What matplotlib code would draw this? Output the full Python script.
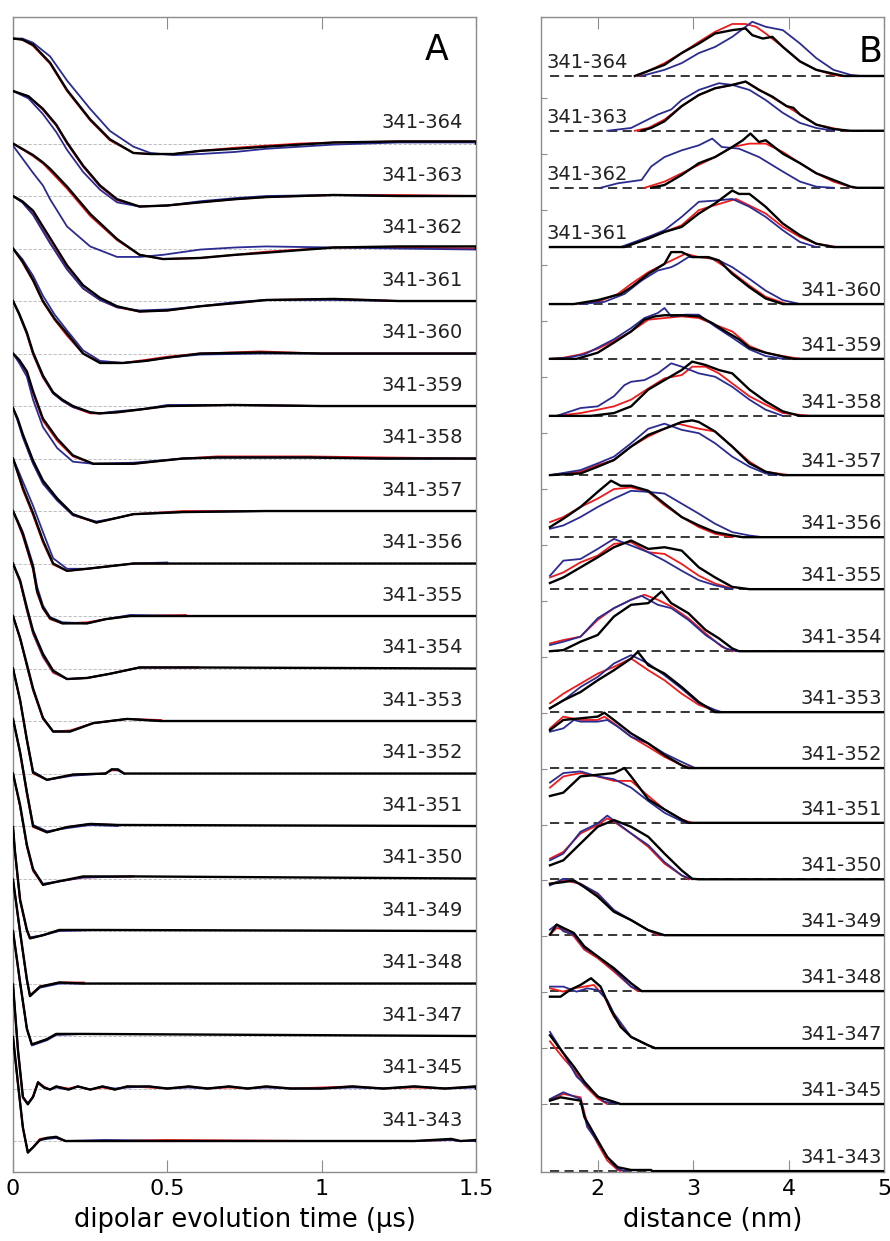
import matplotlib.pyplot as plt

# construct pairs, top to bottom
labels = ['341-364', '341-363', '341-362', '341-361', '341-360', '341-359',
          '341-358', '341-357', '341-356', '341-355', '341-354', '341-353',
          '341-352', '341-351', '341-350', '341-349', '341-348', '341-347',
          '341-345', '341-343']

# ---------------- panel A: background-corrected DEER traces ----------------
a_t = [
    [0, 0.03, 0.065, 0.12, 0.175, 0.25, 0.314, 0.39, 0.445, 0.52, 0.606, 0.72, 0.82, 0.93, 1.04, 1.25, 1.5],
    [0, 0.05, 0.097, 0.14, 0.175, 0.227, 0.282, 0.337, 0.41, 0.5, 0.606, 0.72, 0.82, 1.04, 1.25, 1.5],
    [0, 0.065, 0.097, 0.12, 0.175, 0.25, 0.337, 0.41, 0.486, 0.606, 0.72, 0.82, 1.04, 1.25, 1.5],
    [0, 0.03, 0.065, 0.12, 0.175, 0.227, 0.282, 0.337, 0.41, 0.5, 0.606, 0.72, 0.82, 1.04, 1.25, 1.5],
    [0, 0.03, 0.065, 0.097, 0.135, 0.175, 0.227, 0.282, 0.356, 0.43, 0.5, 0.606, 0.8, 1.0, 1.5],
    [0, 0.02, 0.045, 0.065, 0.097, 0.13, 0.16, 0.194, 0.25, 0.28, 0.337, 0.42, 0.5, 0.71, 1.0, 1.5],
    [0, 0.02, 0.045, 0.065, 0.097, 0.143, 0.194, 0.26, 0.39, 0.55, 0.66, 0.96, 1.2, 1.5],
    [0, 0.015, 0.032, 0.065, 0.097, 0.143, 0.194, 0.27, 0.33, 0.39, 0.55, 0.82, 1.5],
    [0, 0.015, 0.032, 0.065, 0.097, 0.13, 0.175, 0.24, 0.39, 0.5],
    [0, 0.015, 0.032, 0.065, 0.078, 0.097, 0.12, 0.16, 0.24, 0.3, 0.38, 0.56],
    [0, 0.01, 0.023, 0.045, 0.065, 0.097, 0.13, 0.175, 0.24, 0.314, 0.41, 0.6],
    [0, 0.023, 0.045, 0.065, 0.097, 0.13, 0.185, 0.26, 0.37, 0.48],
    [0, 0.023, 0.045, 0.065, 0.11, 0.194, 0.30, 0.32, 0.34, 0.36],
    [0, 0.023, 0.045, 0.065, 0.11, 0.175, 0.25, 0.34],
    [0, 0.023, 0.045, 0.065, 0.097, 0.143, 0.227, 0.39],
    [0, 0.006, 0.023, 0.045, 0.055, 0.097, 0.15, 0.27],
    [0, 0.023, 0.045, 0.055, 0.087, 0.15, 0.23],
    [0, 0.023, 0.045, 0.061, 0.11, 0.14, 0.23],
    [0, 0.016, 0.032, 0.048, 0.065, 0.081, 0.10, 0.12, 0.14, 0.18, 0.21, 0.25, 0.29, 0.33, 0.37,
     0.44, 0.5, 0.57, 0.63, 0.7, 0.76, 0.82, 0.9, 1.0, 1.1, 1.2, 1.3, 1.4, 1.5],
    [0, 0.016, 0.032, 0.048, 0.065, 0.087, 0.11, 0.14, 0.17, 0.3, 0.5, 1.0, 1.3, 1.42, 1.45, 1.5],
]
a_black = [
    [1.0, 0.99, 0.94, 0.77, 0.51, 0.23, 0.04, -0.09, -0.10, -0.10, -0.07, -0.05, -0.03, -0.01, 0.01, 0.02, 0.02],
    [1.0, 0.95, 0.83, 0.68, 0.51, 0.29, 0.10, -0.03, -0.10, -0.09, -0.06, -0.03, -0.01, 0.01, 0.0, 0.0],
    [1.0, 0.89, 0.82, 0.76, 0.59, 0.33, 0.09, -0.06, -0.10, -0.09, -0.06, -0.04, 0.01, 0.02, 0.02],
    [1.0, 0.95, 0.86, 0.60, 0.34, 0.15, 0.03, -0.05, -0.10, -0.09, -0.05, -0.02, 0.01, 0.02, 0.0, 0.0],
    [1.0, 0.88, 0.70, 0.50, 0.33, 0.19, 0.0, -0.09, -0.09, -0.07, -0.04, 0.0, 0.01, 0.0, 0.0],
    [1.0, 0.88, 0.70, 0.51, 0.29, 0.13, 0.06, 0.0, -0.06, -0.07, -0.06, -0.03, 0.0, 0.01, 0.0, 0.0],
    [1.0, 0.94, 0.83, 0.64, 0.38, 0.19, 0.03, -0.05, -0.05, 0.0, 0.01, 0.01, 0.0, 0.0],
    [0.98, 0.88, 0.73, 0.48, 0.29, 0.12, -0.03, -0.11, -0.07, -0.03, -0.01, 0.0, 0.0],
    [1.0, 0.87, 0.72, 0.48, 0.22, 0.0, -0.07, -0.05, 0.0, 0.0],
    [1.0, 0.90, 0.78, 0.46, 0.24, 0.08, -0.02, -0.07, -0.07, -0.03, 0.0, 0.0],
    [1.0, 0.93, 0.84, 0.58, 0.36, 0.14, -0.02, -0.10, -0.09, -0.05, 0.01, 0.01],
    [1.0, 0.79, 0.54, 0.31, 0.03, -0.10, -0.10, -0.02, 0.02, 0.0],
    [1.0, 0.70, 0.32, 0.01, -0.06, -0.01, 0.0, 0.04, 0.04, 0.0],
    [1.02, 0.70, 0.32, 0.0, -0.06, -0.01, 0.02, 0.01],
    [1.0, 0.70, 0.32, 0.09, -0.06, -0.03, 0.02, 0.02],
    [0.99, 0.77, 0.30, 0.01, -0.07, -0.04, 0.01, 0.01],
    [0.99, 0.49, 0.04, -0.12, -0.03, 0.01, 0.0],
    [1.0, 0.51, 0.07, -0.08, -0.03, 0.02, 0.02],
    [0.99, 0.37, -0.08, -0.15, -0.08, 0.06, 0.01, -0.01, 0.02, -0.01, 0.02, -0.01, 0.02, -0.01, 0.02,
     0.02, 0.0, 0.02, 0.0, 0.02, 0.0, 0.02, 0.0, 0.0, 0.02, 0.0, 0.02, 0.0, 0.02],
    [0.99, 0.55, 0.13, -0.11, -0.06, 0.01, 0.03, 0.04, 0.0, 0.0, 0.0, 0.0, 0.0, 0.02, 0.0, 0.01],
]
a_red = [
    [1.0, 0.99, 0.93, 0.76, 0.50, 0.22, 0.03, -0.09, -0.10, -0.10, -0.07, -0.04, -0.02, 0.0, 0.01, 0.02, 0.02],
    [1.0, 0.95, 0.82, 0.67, 0.50, 0.28, 0.09, -0.04, -0.10, -0.09, -0.06, -0.03, -0.01, 0.01, 0.01, 0.0],
    [1.0, 0.88, 0.81, 0.74, 0.57, 0.31, 0.08, -0.06, -0.10, -0.09, -0.06, -0.03, 0.01, 0.01, 0.0],
    [1.0, 0.94, 0.83, 0.56, 0.31, 0.12, 0.01, -0.06, -0.10, -0.09, -0.05, -0.02, 0.01, 0.02, 0.0, 0.0],
    [1.0, 0.87, 0.69, 0.49, 0.32, 0.17, 0.0, -0.08, -0.09, -0.06, -0.03, 0.0, 0.02, 0.0, 0.0],
    [1.0, 0.87, 0.68, 0.49, 0.27, 0.12, 0.05, -0.01, -0.07, -0.07, -0.06, -0.03, 0.0, 0.01, 0.0, 0.0],
    [1.0, 0.93, 0.81, 0.62, 0.36, 0.17, 0.02, -0.05, -0.05, 0.0, 0.02, 0.02, 0.01, 0.0],
    [0.98, 0.87, 0.71, 0.46, 0.27, 0.11, -0.04, -0.11, -0.07, -0.03, 0.0, 0.0, 0.0],
    [1.0, 0.86, 0.70, 0.46, 0.20, -0.01, -0.07, -0.05, 0.0, 0.0],
    [1.0, 0.89, 0.76, 0.44, 0.22, 0.07, -0.03, -0.07, -0.06, -0.03, 0.0, 0.01],
    [1.0, 0.92, 0.82, 0.55, 0.33, 0.11, -0.04, -0.10, -0.09, -0.05, 0.01, 0.01],
    [1.0, 0.78, 0.52, 0.29, 0.02, -0.10, -0.09, -0.02, 0.02, 0.01],
    [1.0, 0.69, 0.31, 0.0, -0.06, -0.01, 0.0, 0.03, 0.03, 0.0],
    [1.02, 0.69, 0.30, -0.01, -0.06, -0.01, 0.02, 0.01],
    [1.0, 0.68, 0.30, 0.07, -0.06, -0.03, 0.01, 0.02],
    [0.99, 0.76, 0.28, 0.0, -0.07, -0.04, 0.01, 0.01],
    [0.99, 0.48, 0.03, -0.11, -0.03, 0.01, 0.01],
    [1.0, 0.50, 0.06, -0.08, -0.03, 0.02, 0.02],
    [0.99, 0.36, -0.09, -0.15, -0.07, 0.06, 0.02, -0.01, 0.02, 0.0, 0.02, -0.01, 0.01, -0.01, 0.02,
     0.01, 0.0, 0.02, 0.0, 0.01, 0.0, 0.02, 0.0, 0.01, 0.02, 0.0, 0.01, 0.0, 0.02],
    [0.99, 0.54, 0.12, -0.11, -0.06, 0.02, 0.03, 0.03, 0.0, 0.0, 0.01, 0.0, 0.0, 0.01, 0.0, 0.0],
]
a_blue = [
    [1.0, 1.0, 0.96, 0.83, 0.60, 0.33, 0.12, -0.03, -0.09, -0.11, -0.10, -0.08, -0.05, -0.03, -0.01, 0.01, 0.01],
    [1.0, 0.93, 0.78, 0.61, 0.44, 0.23, 0.06, -0.06, -0.10, -0.09, -0.05, -0.02, 0.0, 0.01, 0.0, 0.0],
    [0.98, 0.72, 0.60, 0.47, 0.21, 0.02, -0.08, -0.08, -0.06, -0.01, 0.01, 0.02, 0.01, 0.0, -0.01],
    [1.0, 0.94, 0.82, 0.55, 0.30, 0.12, 0.01, -0.06, -0.09, -0.08, -0.05, -0.01, 0.01, 0.01, 0.0, 0.0],
    [1.0, 0.90, 0.74, 0.55, 0.37, 0.22, 0.03, -0.07, -0.09, -0.07, -0.04, -0.01, 0.0, 0.0, 0.0],
    [1.0, 0.87, 0.69, 0.50, 0.28, 0.12, 0.05, -0.01, -0.06, -0.07, -0.05, -0.03, 0.01, 0.01, 0.0, 0.0],
    [1.0, 0.91, 0.78, 0.56, 0.30, 0.10, -0.03, -0.05, -0.04, 0.0, 0.01, 0.01, 0.0, 0.0],
    [0.98, 0.86, 0.70, 0.45, 0.26, 0.10, -0.04, -0.10, -0.07, -0.03, -0.01, 0.0, 0.0],
    [1.0, 0.90, 0.78, 0.55, 0.30, 0.05, -0.05, -0.05, 0.0, 0.01],
    [1.0, 0.91, 0.80, 0.49, 0.28, 0.10, -0.01, -0.06, -0.07, -0.03, 0.01, 0.0],
    [1.0, 0.92, 0.83, 0.56, 0.34, 0.12, -0.03, -0.10, -0.09, -0.05, 0.01, 0.01],
    [1.0, 0.79, 0.53, 0.30, 0.03, -0.10, -0.10, -0.02, 0.02, 0.0],
    [1.0, 0.70, 0.33, 0.02, -0.06, -0.02, 0.0, 0.04, 0.03, 0.0],
    [1.02, 0.71, 0.33, 0.01, -0.05, -0.02, 0.01, 0.0],
    [1.0, 0.69, 0.31, 0.08, -0.05, -0.03, 0.01, 0.02],
    [0.99, 0.77, 0.29, 0.01, -0.06, -0.04, 0.0, 0.01],
    [0.99, 0.49, 0.03, -0.12, -0.04, 0.0, 0.0],
    [1.0, 0.51, 0.07, -0.09, -0.04, 0.01, 0.02],
    [0.99, 0.37, -0.08, -0.14, -0.08, 0.05, 0.01, -0.01, 0.01, -0.01, 0.02, -0.01, 0.02, 0.0, 0.01,
     0.02, 0.0, 0.01, 0.0, 0.02, 0.0, 0.01, 0.0, 0.0, 0.01, 0.0, 0.02, 0.0, 0.01],
    [0.99, 0.55, 0.13, -0.10, -0.06, 0.01, 0.02, 0.03, 0.0, 0.01, 0.0, 0.0, 0.0, 0.01, 0.0, 0.0],
]

# ---------------- panel B: distance distributions ----------------
b_shift = [19.39, 18.41, 17.39, 16.33, 15.31, 14.33, 13.31, 12.25, 11.14, 10.21,
           9.10, 8.01, 7.01, 6.03, 5.02, 4.02, 3.02, 2.0, 1.0, -0.2]

b_black_r = [
    [2.39, 2.70, 2.88, 3.06, 3.23, 3.41, 3.55, 3.62, 3.73, 3.83, 3.94, 4.12, 4.29, 4.47, 4.58],
    [2.46, 2.56, 2.70, 2.88, 3.06, 3.23, 3.41, 3.55, 3.69, 3.83, 3.98, 4.05, 4.12, 4.29, 4.47, 4.65],
    [2.56, 2.70, 2.88, 3.06, 3.23, 3.41, 3.52, 3.60, 3.69, 3.76, 3.94, 4.12, 4.29, 4.47, 4.65, 4.72],
    [1.50, 2.28, 2.53, 2.70, 2.88, 3.06, 3.23, 3.41, 3.48, 3.59, 3.76, 3.94, 4.12, 4.29, 4.47],
    [1.50, 1.75, 2.00, 2.24, 2.35, 2.53, 2.70, 2.77, 2.88, 2.99, 3.16, 3.27, 3.41, 3.59, 3.76, 3.94],
    [1.50, 1.78, 2.00, 2.17, 2.35, 2.49, 2.60, 2.70, 2.88, 3.06, 3.20, 3.34, 3.48, 3.59, 3.76, 3.94, 4.05],
    [1.50, 1.93, 2.17, 2.35, 2.53, 2.70, 2.88, 2.99, 3.13, 3.27, 3.41, 3.59, 3.76, 3.94, 4.12],
    [1.50, 1.82, 2.00, 2.17, 2.35, 2.53, 2.70, 2.88, 2.99, 3.06, 3.23, 3.41, 3.59, 3.76, 3.94],
    [1.50, 1.64, 1.82, 2.00, 2.14, 2.24, 2.35, 2.53, 2.70, 2.88, 3.06, 3.23, 3.41, 3.52],
    [1.50, 1.64, 1.82, 2.00, 2.17, 2.35, 2.53, 2.70, 2.88, 3.06, 3.23, 3.41, 3.59],
    [1.50, 1.64, 1.82, 2.00, 2.17, 2.35, 2.53, 2.67, 2.77, 2.95, 3.13, 3.27, 3.41, 3.48],
    [1.50, 1.64, 1.82, 2.00, 2.17, 2.35, 2.42, 2.53, 2.70, 2.88, 3.06, 3.23],
    [1.50, 1.64, 1.82, 2.00, 2.07, 2.17, 2.35, 2.53, 2.70, 2.88, 2.95],
    [1.50, 1.64, 1.82, 2.00, 2.17, 2.28, 2.35, 2.53, 2.70, 2.88, 2.95],
    [1.50, 1.64, 1.82, 2.00, 2.17, 2.35, 2.53, 2.70, 2.88, 2.99, 3.06],
    [1.50, 1.64, 1.75, 1.86, 2.00, 2.17, 2.35, 2.53, 2.70],
    [1.50, 1.57, 1.64, 1.75, 1.86, 2.00, 2.17, 2.35, 2.46],
    [1.50, 1.61, 1.71, 1.82, 1.93, 2.03, 2.14, 2.24, 2.35, 2.53, 2.60],
    [1.50, 1.64, 1.75, 1.86, 2.00, 2.17, 2.24],
    [1.50, 1.61, 1.82, 1.86, 2.00, 2.10, 2.21, 2.35, 2.56, 2.57],
]
b_black_p = [
    [0, 0.20, 0.41, 0.58, 0.76, 0.82, 0.85, 0.73, 0.67, 0.70, 0.52, 0.26, 0.11, 0.04, 0],
    [0, 0.05, 0.17, 0.44, 0.64, 0.76, 0.82, 0.88, 0.73, 0.61, 0.44, 0.41, 0.29, 0.11, 0.03, 0],
    [0, 0.05, 0.23, 0.44, 0.55, 0.73, 0.85, 0.97, 0.82, 0.85, 0.61, 0.44, 0.26, 0.14, 0.02, 0],
    [0, 0, 0.15, 0.27, 0.36, 0.60, 0.78, 1.01, 0.95, 0.95, 0.72, 0.42, 0.21, 0.06, 0],
    [0, 0, 0.07, 0.18, 0.30, 0.54, 0.72, 0.93, 0.93, 0.84, 0.84, 0.78, 0.54, 0.30, 0.10, 0],
    [0, 0, 0.11, 0.29, 0.49, 0.70, 0.76, 0.78, 0.78, 0.76, 0.64, 0.49, 0.35, 0.20, 0.11, 0.04, 0],
    [0, 0, 0.05, 0.17, 0.47, 0.64, 0.82, 0.97, 0.91, 0.82, 0.76, 0.47, 0.26, 0.08, 0],
    [0, 0.03, 0.15, 0.27, 0.51, 0.72, 0.83, 0.95, 0.98, 0.95, 0.78, 0.51, 0.21, 0.06, 0],
    [0.18, 0.33, 0.54, 0.81, 1.01, 0.92, 0.92, 0.83, 0.60, 0.36, 0.21, 0.09, 0.03, 0],
    [0.11, 0.21, 0.39, 0.57, 0.75, 0.87, 0.72, 0.75, 0.69, 0.39, 0.21, 0.04, 0],
    [0, 0.02, 0.17, 0.29, 0.62, 0.83, 0.86, 1.07, 0.86, 0.68, 0.38, 0.23, 0.05, 0],
    [0.07, 0.21, 0.36, 0.57, 0.75, 0.96, 1.08, 0.84, 0.69, 0.45, 0.18, 0],
    [0.68, 0.86, 0.89, 0.92, 0.99, 0.86, 0.62, 0.44, 0.23, 0.05, 0],
    [0.48, 0.54, 0.83, 0.86, 0.89, 0.98, 0.83, 0.42, 0.24, 0.06, 0],
    [0.25, 0.34, 0.64, 0.94, 1.06, 0.94, 0.76, 0.46, 0.16, 0.01, 0],
    [0.92, 0.95, 0.98, 0.86, 0.69, 0.42, 0.27, 0.09, 0],
    [1.01, 1.19, 1.13, 1.04, 0.80, 0.62, 0.41, 0.14, 0],
    [0.92, 0.92, 1.04, 1.13, 1.25, 1.10, 0.68, 0.38, 0.20, 0.05, 0],
    [1.23, 0.91, 0.67, 0.40, 0.13, 0.04, 0],
    [1.26, 1.32, 1.26, 0.97, 0.55, 0.25, 0.07, 0.02, 0.02, 0],
]
b_red_r = [
    [2.42, 2.70, 2.88, 3.06, 3.23, 3.41, 3.55, 3.66, 3.76, 3.94, 4.12, 4.29, 4.47, 4.54],
    [2.39, 2.53, 2.70, 2.88, 3.06, 3.23, 3.41, 3.55, 3.76, 3.98, 4.12, 4.29, 4.54, 4.60],
    [2.49, 2.70, 2.88, 3.06, 3.23, 3.41, 3.59, 3.76, 3.94, 4.12, 4.29, 4.47, 4.68],
    [1.50, 2.28, 2.53, 2.70, 2.88, 3.06, 3.23, 3.45, 3.76, 3.94, 4.12, 4.29, 4.51],
    [1.75, 2.00, 2.21, 2.35, 2.53, 2.70, 2.92, 3.06, 3.20, 3.34, 3.59, 3.76, 3.98],
    [1.50, 1.64, 1.82, 2.00, 2.17, 2.35, 2.53, 2.70, 2.88, 3.06, 3.23, 3.41, 3.59, 3.76, 3.94, 4.12],
    [1.57, 1.82, 2.00, 2.17, 2.35, 2.53, 2.70, 2.88, 2.99, 3.13, 3.27, 3.41, 3.59, 3.76, 3.94, 4.22],
    [1.50, 1.82, 2.00, 2.17, 2.35, 2.53, 2.70, 2.84, 3.06, 3.23, 3.41, 3.59, 3.76, 4.01],
    [1.50, 1.64, 1.82, 2.00, 2.17, 2.35, 2.53, 2.70, 2.88, 3.06, 3.23, 3.41],
    [1.50, 1.64, 1.82, 2.00, 2.17, 2.35, 2.53, 2.70, 2.88, 3.06, 3.23, 3.41],
    [1.50, 1.64, 1.82, 2.00, 2.17, 2.35, 2.49, 2.63, 2.77, 2.95, 3.13, 3.30, 3.41],
    [1.50, 1.64, 1.82, 2.00, 2.17, 2.35, 2.53, 2.70, 2.88, 3.06, 3.27],
    [1.50, 1.64, 1.82, 2.00, 2.07, 2.17, 2.35, 2.53, 2.70, 2.88, 2.99],
    [1.50, 1.64, 1.82, 2.00, 2.17, 2.35, 2.53, 2.70, 2.88, 2.99],
    [1.50, 1.64, 1.82, 2.00, 2.10, 2.17, 2.35, 2.53, 2.70, 2.88, 2.95],
    [1.50, 1.64, 1.82, 2.00, 2.17, 2.35, 2.53, 2.63],
    [1.50, 1.57, 1.64, 1.75, 1.86, 2.00, 2.17, 2.35, 2.42],
    [1.50, 1.64, 1.75, 1.86, 1.96, 2.07, 2.17, 2.35, 2.53, 2.60],
    [1.50, 1.64, 1.75, 1.86, 2.00, 2.10],
    [1.50, 1.64, 1.82, 1.89, 2.00, 2.10, 2.21, 2.24],
]
b_red_p = [
    [0, 0.23, 0.41, 0.61, 0.79, 0.93, 0.93, 0.88, 0.76, 0.52, 0.26, 0.11, 0.02, 0],
    [0, 0.05, 0.20, 0.44, 0.64, 0.76, 0.82, 0.88, 0.67, 0.44, 0.29, 0.11, 0.02, 0],
    [0, 0.11, 0.26, 0.41, 0.55, 0.73, 0.79, 0.79, 0.64, 0.44, 0.26, 0.11, 0],
    [0, 0, 0.18, 0.27, 0.39, 0.66, 0.75, 0.86, 0.60, 0.36, 0.18, 0.06, 0],
    [0, 0.04, 0.18, 0.36, 0.57, 0.72, 0.90, 0.84, 0.81, 0.66, 0.33, 0.13, 0],
    [0, 0.02, 0.08, 0.18, 0.32, 0.49, 0.70, 0.73, 0.76, 0.73, 0.61, 0.49, 0.23, 0.11, 0.05, 0],
    [0, 0.05, 0.11, 0.17, 0.29, 0.49, 0.67, 0.73, 0.88, 0.88, 0.76, 0.58, 0.35, 0.20, 0.05, 0],
    [0, 0.06, 0.18, 0.27, 0.51, 0.69, 0.83, 0.92, 0.83, 0.78, 0.51, 0.24, 0.06, 0],
    [0.27, 0.36, 0.54, 0.69, 0.86, 0.89, 0.81, 0.57, 0.36, 0.18, 0.06, 0],
    [0.21, 0.30, 0.48, 0.60, 0.81, 0.84, 0.66, 0.63, 0.45, 0.24, 0.10, 0.01],
    [0.14, 0.20, 0.26, 0.56, 0.77, 0.92, 1.01, 0.92, 0.80, 0.59, 0.32, 0.08, 0],
    [0.16, 0.33, 0.51, 0.69, 0.81, 0.96, 0.75, 0.57, 0.33, 0.13, 0],
    [0.71, 0.92, 0.86, 0.86, 0.92, 0.80, 0.56, 0.38, 0.20, 0.05, 0],
    [0.63, 0.83, 0.89, 0.83, 0.75, 0.75, 0.48, 0.24, 0.06, 0],
    [0.37, 0.49, 0.82, 0.97, 1.09, 1.03, 0.82, 0.58, 0.28, 0.07, 0],
    [0.92, 0.98, 0.92, 0.72, 0.42, 0.27, 0.09, 0],
    [1.01, 1.13, 1.10, 0.98, 0.74, 0.59, 0.35, 0.08, 0],
    [1.07, 1.01, 1.07, 1.10, 1.13, 0.92, 0.56, 0.20, 0.05, 0],
    [1.12, 0.82, 0.61, 0.34, 0.10, 0],
    [1.28, 1.38, 1.32, 0.85, 0.49, 0.19, 0.02, 0],
]
b_blue_r = [
    [2.46, 2.70, 2.88, 3.06, 3.23, 3.41, 3.55, 3.62, 3.76, 3.94, 4.12, 4.29, 4.47, 4.65, 4.75],
    [2.10, 2.35, 2.63, 2.77, 2.88, 3.06, 3.27, 3.41, 3.59, 3.76, 3.94, 4.12, 4.29, 4.47],
    [2.03, 2.21, 2.46, 2.56, 2.70, 2.88, 3.06, 3.20, 3.30, 3.48, 3.69, 3.94, 4.12, 4.29, 4.47],
    [2.24, 2.53, 2.70, 2.88, 3.06, 3.23, 3.41, 3.59, 3.76, 3.94, 4.12, 4.29],
    [1.82, 2.07, 2.28, 2.46, 2.63, 2.77, 2.84, 2.95, 3.13, 3.27, 3.41, 3.59, 3.76, 3.94, 4.12],
    [1.50, 1.68, 1.86, 2.00, 2.17, 2.35, 2.49, 2.63, 2.70, 2.77, 2.92, 3.06, 3.23, 3.41, 3.59, 3.76, 3.94],
    [1.57, 1.82, 2.00, 2.17, 2.28, 2.35, 2.49, 2.63, 2.77, 2.88, 3.06, 3.23, 3.41, 3.59, 3.76, 3.94],
    [1.50, 1.82, 2.00, 2.17, 2.35, 2.53, 2.70, 2.88, 3.06, 3.23, 3.41, 3.59, 3.76, 3.87],
    [1.50, 1.64, 1.82, 2.00, 2.17, 2.35, 2.53, 2.70, 2.88, 3.06, 3.23, 3.41, 3.59, 3.73],
    [1.50, 1.64, 1.82, 2.00, 2.17, 2.35, 2.53, 2.70, 2.88, 3.06, 3.23, 3.41],
    [1.50, 1.64, 1.82, 2.00, 2.17, 2.35, 2.46, 2.63, 2.77, 2.95, 3.13, 3.34, 3.45],
    [1.50, 1.64, 1.82, 2.00, 2.17, 2.35, 2.53, 2.70, 2.88, 3.06, 3.23, 3.30],
    [1.50, 1.64, 1.75, 1.82, 2.00, 2.10, 2.21, 2.35, 2.53, 2.70, 2.88, 3.02],
    [1.50, 1.64, 1.82, 2.00, 2.17, 2.35, 2.53, 2.70, 2.88, 2.95],
    [1.50, 1.64, 1.82, 2.00, 2.10, 2.21, 2.35, 2.53, 2.70, 2.88, 2.99],
    [1.50, 1.64, 1.82, 2.00, 2.17, 2.35, 2.53, 2.67],
    [1.50, 1.57, 1.64, 1.75, 1.86, 2.00, 2.17, 2.35, 2.46],
    [1.50, 1.64, 1.78, 1.89, 2.00, 2.10, 2.17, 2.35, 2.53, 2.60],
    [1.50, 1.64, 1.78, 1.93, 2.07, 2.24],
    [1.50, 1.64, 1.82, 1.89, 2.00, 2.14, 2.21, 2.28],
]
b_blue_p = [
    [0, 0.11, 0.23, 0.41, 0.52, 0.70, 0.88, 0.97, 0.88, 0.82, 0.58, 0.32, 0.11, 0.02, 0],
    [0, 0.05, 0.29, 0.38, 0.55, 0.73, 0.85, 0.82, 0.73, 0.55, 0.32, 0.14, 0.05, 0],
    [0, 0.08, 0.14, 0.38, 0.55, 0.67, 0.76, 0.88, 0.73, 0.70, 0.55, 0.29, 0.11, 0.02, 0],
    [0, 0.18, 0.30, 0.54, 0.81, 0.83, 0.86, 0.72, 0.54, 0.30, 0.09, 0],
    [0, 0.04, 0.18, 0.42, 0.60, 0.66, 0.72, 0.84, 0.84, 0.78, 0.66, 0.45, 0.24, 0.07, 0],
    [0, 0.02, 0.08, 0.20, 0.35, 0.55, 0.73, 0.82, 0.91, 0.76, 0.79, 0.79, 0.58, 0.38, 0.17, 0.05, 0],
    [0, 0.14, 0.17, 0.35, 0.55, 0.61, 0.64, 0.76, 0.94, 0.88, 0.76, 0.70, 0.52, 0.29, 0.11, 0],
    [0, 0.09, 0.21, 0.33, 0.57, 0.83, 0.92, 0.81, 0.75, 0.57, 0.33, 0.15, 0.03, 0],
    [0.15, 0.21, 0.36, 0.54, 0.69, 0.83, 0.81, 0.78, 0.60, 0.42, 0.24, 0.09, 0.03, 0],
    [0.24, 0.51, 0.54, 0.72, 0.90, 0.78, 0.66, 0.51, 0.33, 0.16, 0.07, 0],
    [0.11, 0.17, 0.26, 0.59, 0.77, 0.92, 0.99, 0.83, 0.77, 0.56, 0.29, 0.05, 0],
    [0.07, 0.21, 0.45, 0.63, 0.87, 1.02, 0.87, 0.66, 0.42, 0.16, 0.04, 0],
    [0.65, 0.71, 0.86, 0.83, 0.83, 0.86, 0.74, 0.56, 0.44, 0.26, 0.11, 0],
    [0.72, 0.89, 0.92, 0.83, 0.78, 0.63, 0.39, 0.18, 0.03, 0],
    [0.34, 0.46, 0.85, 1.00, 1.14, 1.00, 0.82, 0.61, 0.31, 0.07, 0],
    [0.89, 1.01, 0.92, 0.75, 0.45, 0.27, 0.09, 0],
    [1.10, 1.19, 1.07, 1.01, 0.77, 0.62, 0.38, 0.08, 0],
    [1.10, 1.10, 1.01, 1.07, 1.04, 0.86, 0.62, 0.20, 0.05, 0],
    [1.29, 0.91, 0.49, 0.25, 0.04, 0],
    [1.29, 1.41, 1.29, 0.79, 0.52, 0.16, 0.04, 0],
]

RED = '#f01a1a'
BLUE = '#2b2b92'
SPINE = '#8c8c8c'

fig = plt.figure(figsize=(8.9, 12.41), dpi=100)
ax_a = fig.add_axes([0.01461, 0.05560, 0.52022, 0.93070])
ax_b = fig.add_axes([0.60787, 0.05560, 0.38539, 0.93070])

n = len(labels)

# panel A
for i in range(n):
    base = 0.5 * (n - 1 - i)
    t = a_t[i]
    ax_a.plot([0, 1.5], [base, base], color='#b4b4b4', lw=0.6, ls=(0, (4, 2)), zorder=1)
    ax_a.plot(t, [base + v for v in a_red[i]], color=RED, lw=1.3, zorder=2)
    ax_a.plot(t, [base + v for v in a_blue[i]], color=BLUE, lw=1.3, zorder=3)
    ax_a.plot(t + [1.5], [base + v for v in a_black[i]] + [base], color='black', lw=1.7, zorder=4)
    ax_a.text(1.458, base + 0.2, labels[i], ha='right', va='center', fontsize=14, color='#222222')

ax_a.set_xlim(0, 1.5)
ax_a.set_ylim(-0.295, 10.705)
ax_a.set_xticks([0, 0.5, 1, 1.5])
ax_a.set_xticklabels(['0', '0.5', '1', '1.5'])
ax_a.set_yticks([])
ax_a.tick_params(axis='x', direction='in', length=8.5, width=0.8, color=SPINE,
                 top=True, labelsize=16, pad=5)
ax_a.set_xlabel('dipolar evolution time (\u03bcs)', fontsize=18.5, labelpad=6)
ax_a.text(1.373, 10.39, 'A', ha='center', va='center', fontsize=25)

# panel B
for i in range(n):
    base = b_shift[i]
    ax_b.plot([1.5, 5.0], [base, base], color='black', lw=1.1, ls=(0, (6, 3.5)), zorder=1)
    ax_b.plot(b_red_r[i], [base + v for v in b_red_p[i]], color=RED, lw=1.3, zorder=2)
    ax_b.plot(b_blue_r[i], [base + v for v in b_blue_p[i]], color=BLUE, lw=1.3, zorder=3)
    ax_b.plot(b_black_r[i] + [5.0], [base + v for v in b_black_p[i]] + [base],
              color='black', lw=1.7, zorder=4)
    if i < 4:
        ax_b.text(1.46, base + 0.24, labels[i], ha='left', va='center', fontsize=14, color='#222222')
    else:
        ax_b.text(4.98, base + 0.24, labels[i], ha='right', va='center', fontsize=14, color='#222222')

ax_b.set_xlim(1.406, 5.0)
ax_b.set_ylim(-0.216, 20.445)
ax_b.set_xticks([2, 3, 4, 5])
ax_b.set_yticks(range(1, 20))
ax_b.set_yticklabels([])
ax_b.tick_params(axis='x', direction='in', length=8.5, width=0.8, color=SPINE,
                 top=True, labelsize=16, pad=5)
ax_b.tick_params(axis='y', direction='in', length=4.5, width=0.8, color=SPINE)
ax_b.set_xlabel('distance (nm)', fontsize=18.5, labelpad=6)
ax_b.text(4.863, 19.82, 'B', ha='center', va='center', fontsize=25)

for ax in (ax_a, ax_b):
    for sp in ax.spines.values():
        sp.set_color(SPINE)
        sp.set_linewidth(1.0)

fig.savefig('out.png', dpi=100)
